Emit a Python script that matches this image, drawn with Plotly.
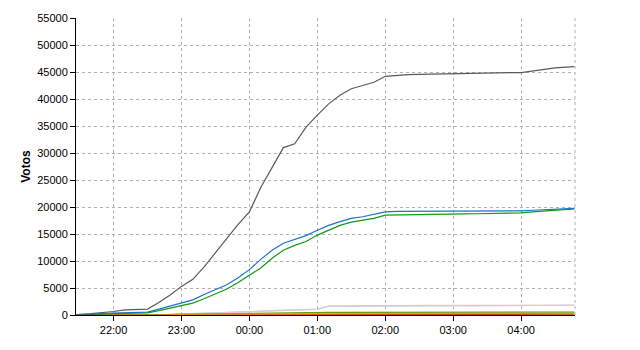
import plotly.graph_objects as go

times = ["21:27", "21:30", "21:40", "21:50", "22:00", "22:10", "22:20", "22:30", "22:40", "22:50",
         "23:00", "23:10", "23:20", "23:30", "23:40", "23:50",
         "00:00", "00:10", "00:20", "00:30", "00:40", "00:50",
         "01:00", "01:10", "01:20", "01:30", "01:40", "01:50",
         "02:00", "02:10", "02:20", "02:30", "02:40", "02:50",
         "03:00", "03:10", "03:20", "03:30", "03:40", "03:50",
         "04:00", "04:10", "04:20", "04:30", "04:40", "04:47"]

gray = [0, 100, 250, 400, 650, 950, 1050, 1100, 2300, 3700,
        5300, 6600, 8900, 11500, 14300, 16800,
        19100, 23600, 27300, 31000, 31700, 34800,
        37000, 39100, 40700, 41900, 42500, 43100,
        44200, 44400, 44500, 44550, 44600, 44650,
        44750, 44780, 44800, 44820, 44850, 44880,
        44900, 45200, 45500, 45750, 45900, 46000]

blue = [0, 20, 100, 250, 370, 450, 500, 550, 1100, 1700,
        2300, 2800, 3800, 4700, 5600, 6900,
        8400, 10300, 12000, 13300, 14000, 14700,
        15700, 16600, 17300, 17900, 18200, 18600,
        19100, 19200, 19200, 19220, 19230, 19240,
        19250, 19260, 19270, 19280, 19290, 19300,
        19300, 19400, 19500, 19600, 19700, 19750]

green = [0, 10, 50, 150, 250, 330, 370, 400, 800, 1300,
         1800, 2200, 3000, 3900, 4800, 6000,
         7400, 8700, 10500, 12000, 12900, 13600,
         14800, 15700, 16600, 17200, 17600, 17900,
         18500, 18550, 18580, 18600, 18620, 18650,
         18700, 18720, 18750, 18800, 18850, 18880,
         18900, 19100, 19250, 19400, 19550, 19650]

light_green = [0, 0, 0, 0, 10, 20, 30, 40, 80, 120,
               200, 260, 330, 400, 480, 560,
               650, 720, 800, 900, 950, 1000,
               1100, 1700, 1720, 1740, 1750, 1760,
               1760, 1760, 1765, 1770, 1770, 1770,
               1770, 1775, 1780, 1780, 1780, 1785,
               1790, 1790, 1795, 1800, 1800, 1800]

pink = [0, 0, 0, 0, 10, 15, 20, 30, 60, 100,
        160, 220, 290, 360, 430, 500,
        580, 650, 730, 820, 870, 920,
        1020, 1600, 1620, 1640, 1650, 1660,
        1670, 1670, 1675, 1680, 1680, 1680,
        1690, 1690, 1700, 1700, 1710, 1710,
        1720, 1740, 1760, 1780, 1800, 1820]

olive = [0, 0, 0, 0, 5, 10, 15, 20, 40, 60,
         100, 130, 160, 200, 230, 260,
         290, 320, 350, 380, 400, 420,
         440, 470, 490, 500, 510, 515,
         520, 520, 525, 525, 530, 530,
         530, 530, 535, 535, 540, 540,
         540, 545, 545, 550, 550, 550]

orange = [0, 0, 0, 0, 0, 0, 0, 0, 0, 50,
          150, 180, 190, 200, 200, 210,
          210, 215, 220, 220, 225, 225,
          230, 230, 230, 235, 235, 235,
          240, 240, 240, 240, 240, 240,
          240, 240, 240, 240, 240, 240,
          240, 245, 245, 250, 250, 250]

red = [0, 0, 0, 0, 0, 0, 0, 0, 10, 20,
       40, 50, 60, 70, 80, 90,
       100, 105, 110, 115, 120, 120,
       125, 125, 130, 130, 130, 130,
       130, 130, 130, 130, 130, 130,
       130, 130, 130, 130, 130, 130,
       130, 130, 135, 135, 135, 135]


def to_dt(t):
    h = int(t[:2])
    day = "2011-05-22" if h >= 12 else "2011-05-23"
    return f"{day} {t}:00"


x = [to_dt(t) for t in times]

series = [
    ("light_green", light_green, "#b8e0b0"),
    ("pink", pink, "#e8c0e8"),
    ("red", red, "#cc2200"),
    ("olive", olive, "#66a000"),
    ("orange", orange, "#ff8800"),
    ("green", green, "#11981a"),
    ("blue", blue, "#1f72c4"),
    ("gray", gray, "#5a5a5a"),
]

fig = go.Figure()
for name, vals, col in series:
    fig.add_trace(go.Scatter(x=x, y=vals, mode="lines", name=name,
                             line=dict(color=col, width=1.2), showlegend=False))

fig.update_layout(
    width=640, height=350,
    margin=dict(l=76, r=65, t=15, b=35),
    paper_bgcolor="white", plot_bgcolor="white",
    font=dict(family="Liberation Sans, Arial, sans-serif", size=11, color="black"),
)
fig.update_xaxes(
    type="date",
    range=["2011-05-22 21:26:50", "2011-05-23 04:47:35"],
    dtick=3600000, tick0="2011-05-22 22:00:00", tickformat="%H:%M",
    showgrid=True, gridcolor="#b0b0b0", griddash="dot", gridwidth=1,
    showline=True, linecolor="black", linewidth=1,
    ticks="outside", ticklen=5, tickcolor="black",
    zeroline=False,
)
fig.update_yaxes(
    range=[0, 55000], dtick=5000, tick0=0, tickformat="d",
    showgrid=True, gridcolor="#b0b0b0", griddash="dot", gridwidth=1,
    showline=True, linecolor="black", linewidth=1,
    ticks="outside", ticklen=5, tickcolor="black",
    zeroline=False,
    title=dict(text="<b>Votos</b>", font=dict(size=12), standoff=4),
)
fig.add_shape(type="line", xref="paper", yref="paper", x0=1, x1=1, y0=0, y1=1,
              line=dict(color="#b0b0b0", width=1, dash="dot"))

fig.write_html("out.html")
